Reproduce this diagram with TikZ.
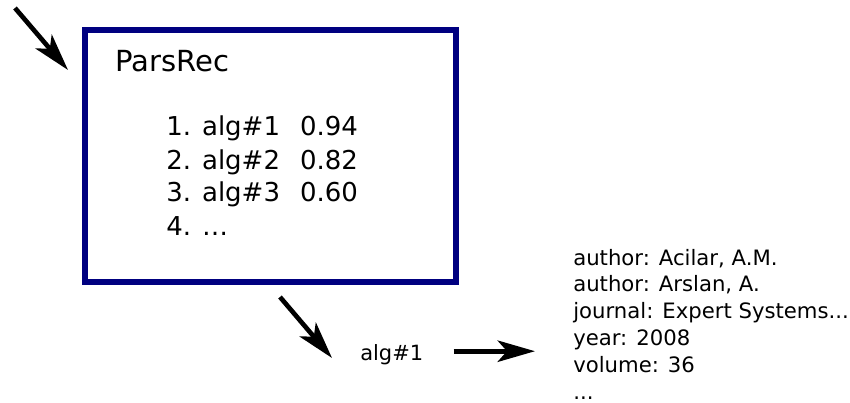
\documentclass[tikz,border=0pt]{standalone}
\usepackage{fontspec}
\setmainfont{DejaVu Sans}
\usetikzlibrary{arrows.meta}
\definecolor{boxblue}{RGB}{0,0,128}
\tikzset{
	arr/.style={-{Stealth[length=28pt,width=16pt,inset=7pt]}, line width=3.5pt, black},
	txt/.style={inner sep=0pt, anchor=base west},
}
\begin{document}
\begin{tikzpicture}[x=.75pt, y=-.75pt]
	\useasboundingbox (0,0) rectangle (850,403);
	\node[draw=boxblue, line width=4.5pt, minimum width=278.25pt, minimum height=189pt] (parsrec) at (270.5,156) {};
	\node[txt, font=\fontsize{21.8}{26}\selectfont] (title) at (115,72) {ParsRec};
	\node[txt, font=\fontsize{19.5}{24.75}\selectfont] (list) at (166,136)
		{\begin{tabular}[t]{@{}l@{\hspace{15pt}}l@{}}
		1. alg\#1 & 0.94\\ 2. alg\#2 & 0.82\\ 3. alg\#3 & 0.60\\ 4. \dots & \\
		\end{tabular}};
	\node[txt, font=\fontsize{15.75}{19.9}\selectfont] (alg) at (360,360) {alg\#1};
	\node[txt, font=\fontsize{15.9}{20.2}\selectfont] (rec) at (573,265)
		{\begin{tabular}[t]{@{}l@{}}
		author: Acilar, A.M.\\ author: Arslan, A.\\ journal: Expert Systems...\\
		year: 2008\\ volume: 36\\ ...\\
		\end{tabular}};
	% arrows
	\coordinate (in)  at (15,8);
	\coordinate (inend) at (68,70);
	\coordinate (out) at (280,297);
	\coordinate (outend) at (332,358);
	\draw[arr] (in) -- (inend);
	\draw[arr] (out) -- (outend);
	\draw[arr] ([shift={(30,-3)}]alg.east) -- ([shift={(-38,-3)}]alg.east -| rec.west);
\end{tikzpicture}
\end{document}
